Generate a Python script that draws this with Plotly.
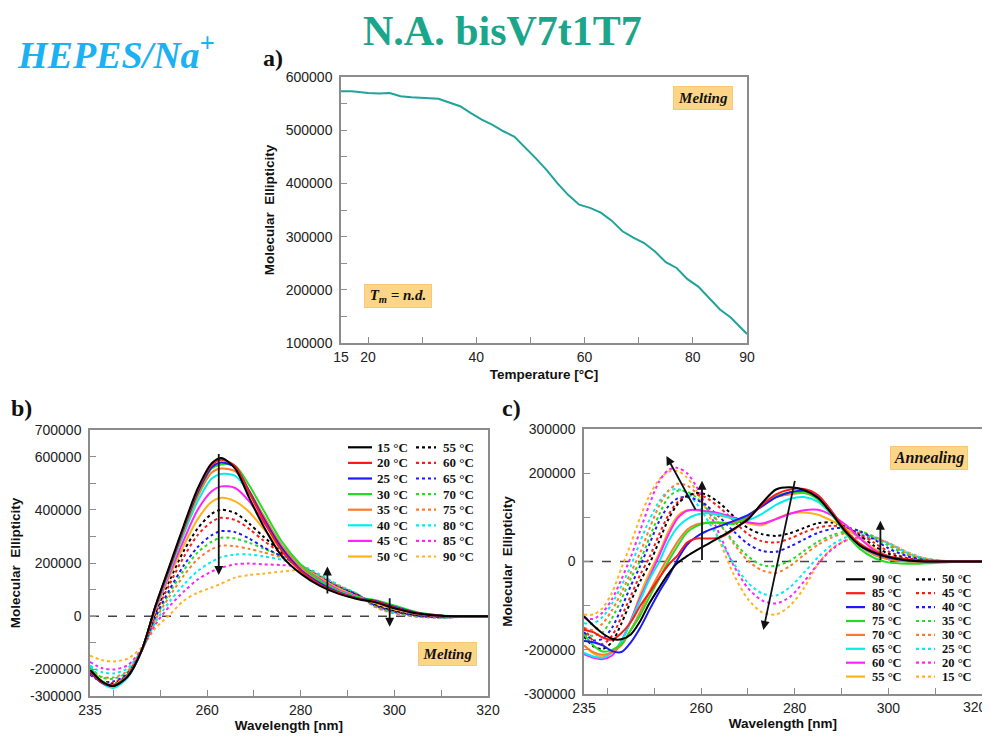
import plotly.graph_objects as go

# ---------------- Panel a: melting curve ----------------
temp_a = [15, 17, 20, 22, 24, 26, 28, 30, 33, 35, 37, 39, 41, 43, 45, 47, 49, 51, 53, 55,
          57, 59, 61, 63, 65, 67, 69, 71, 73, 75, 77, 79, 81, 83, 85, 87, 89, 90]
ellip_a = [573000, 573000, 570000, 569000, 570000, 564000, 562000, 561000, 559000, 552000,
           545000, 532000, 520000, 510000, 498000, 488000, 468000, 447000, 425000, 400000,
           378000, 360000, 354000, 345000, 330000, 310000, 298000, 288000, 272000, 252000,
           241000, 220000, 206000, 185000, 163000, 148000, 126000, 117000]

# ---------------- Panel b: melting spectra ----------------
wl_b = [235, 237.5, 240, 243, 246, 249, 252, 255, 258, 261, 263, 266, 269, 272, 276, 280,
        284, 288, 292, 296, 300, 305, 310, 315, 320]
b_15 = [-200e3, -245e3, -262e3, -228e3, -130e3, 40e3, 190e3, 340e3, 480e3, 575e3, 595e3, 555e3, 445e3, 340e3, 225e3, 160e3, 115e3, 85e3, 65e3, 52e3, 30e3, 10e3, 2e3, 0, 0]
b_20 = [-205e3, -248e3, -260e3, -226e3, -130e3, 38e3, 185e3, 335e3, 472e3, 568e3, 588e3, 565e3, 465e3, 362e3, 245e3, 170e3, 120e3, 88e3, 67e3, 55e3, 33e3, 11e3, 2e3, 0, 0]
b_25 = [-210e3, -250e3, -262e3, -226e3, -130e3, 36e3, 182e3, 330e3, 466e3, 560e3, 578e3, 560e3, 470e3, 370e3, 255e3, 175e3, 125e3, 90e3, 68e3, 57e3, 35e3, 12e3, 2e3, 0, 0]
b_30 = [-195e3, -243e3, -258e3, -225e3, -130e3, 35e3, 180e3, 325e3, 460e3, 555e3, 570e3, 565e3, 492e3, 400e3, 280e3, 195e3, 135e3, 95e3, 72e3, 60e3, 40e3, 14e3, 3e3, 0, 0]
b_35 = [-210e3, -250e3, -262e3, -226e3, -130e3, 33e3, 176e3, 318e3, 450e3, 540e3, 555e3, 545e3, 472e3, 380e3, 265e3, 185e3, 130e3, 92e3, 70e3, 57e3, 36e3, 12e3, 2e3, 0, 0]
b_40 = [-185e3, -250e3, -270e3, -232e3, -132e3, 30e3, 170e3, 308e3, 432e3, 518e3, 535e3, 528e3, 462e3, 375e3, 265e3, 190e3, 135e3, 95e3, 72e3, 55e3, 33e3, 11e3, 2e3, 0, 0]
b_45 = [-200e3, -250e3, -262e3, -226e3, -130e3, 28e3, 160e3, 285e3, 400e3, 470e3, 488e3, 482e3, 432e3, 355e3, 260e3, 190e3, 140e3, 100e3, 74e3, 52e3, 30e3, 10e3, 2e3, 0, 0]
b_50 = [-190e3, -245e3, -258e3, -224e3, -130e3, 25e3, 150e3, 265e3, 365e3, 430e3, 445e3, 432e3, 392e3, 330e3, 250e3, 190e3, 145e3, 105e3, 75e3, 48e3, 26e3, 8e3, 1e3, 0, 0]
b_55 = [-210e3, -248e3, -255e3, -222e3, -130e3, 15e3, 135e3, 245e3, 330e3, 385e3, 400e3, 388e3, 348e3, 300e3, 240e3, 190e3, 142e3, 106e3, 78e3, 45e3, 22e3, 5e3, 0, 0, 0]
b_60 = [-215e3, -248e3, -250e3, -220e3, -130e3, 10e3, 120e3, 222e3, 305e3, 355e3, 370e3, 362e3, 328e3, 285e3, 235e3, 190e3, 145e3, 108e3, 80e3, 42e3, 20e3, 3e3, -2e3, -1e3, 0]
b_65 = [-220e3, -245e3, -245e3, -216e3, -130e3, 0, 100e3, 190e3, 260e3, 305e3, 320e3, 316e3, 292e3, 260e3, 225e3, 190e3, 148e3, 110e3, 82e3, 40e3, 18e3, 2e3, -4e3, -2e3, 0]
b_70 = [-190e3, -230e3, -235e3, -210e3, -130e3, -5e3, 88e3, 172e3, 240e3, 280e3, 295e3, 292e3, 276e3, 255e3, 225e3, 190e3, 150e3, 112e3, 83e3, 40e3, 17e3, 1e3, -4e3, -2e3, 0]
b_75 = [-200e3, -228e3, -230e3, -206e3, -130e3, -12e3, 75e3, 152e3, 215e3, 252e3, 265e3, 263e3, 253e3, 240e3, 220e3, 190e3, 152e3, 115e3, 84e3, 38e3, 15e3, 0, -5e3, -2e3, 0]
b_80 = [-185e3, -210e3, -215e3, -196e3, -128e3, -22e3, 55e3, 118e3, 170e3, 205e3, 222e3, 232e3, 232e3, 225e3, 212e3, 192e3, 158e3, 118e3, 85e3, 37e3, 14e3, -1e3, -5e3, -2e3, 0]
b_85 = [-172e3, -195e3, -200e3, -185e3, -125e3, -30e3, 38e3, 92e3, 138e3, 168e3, 182e3, 195e3, 198e3, 195e3, 192e3, 185e3, 155e3, 115e3, 82e3, 35e3, 12e3, -2e3, -5e3, -2e3, 0]
b_90 = [-148e3, -165e3, -170e3, -160e3, -118e3, -45e3, 5e3, 58e3, 88e3, 108e3, 122e3, 145e3, 155e3, 160e3, 168e3, 172e3, 150e3, 112e3, 80e3, 33e3, 10e3, -2e3, -4e3, -2e3, 0]
temps_b = [15, 20, 25, 30, 35, 40, 45, 50, 55, 60, 65, 70, 75, 80, 85, 90]

# ---------------- Panel c: annealing spectra ----------------
wl_c = [235, 237, 239, 241, 243, 245, 247, 249, 251, 253, 255, 257, 259, 261, 264, 267, 270,
        273, 276, 279, 282, 285, 288, 291, 294, 297, 300, 304, 308, 314, 320]
c_90 = [-124e3, -145e3, -163e3, -175e3, -176e3, -165e3, -135e3, -94e3, -60e3, -28e3, -3e3, 12e3, 25e3, 37e3, 55e3, 74e3, 95e3, 132e3, 163e3, 168e3, 162e3, 144e3, 107e3, 66e3, 36e3, 20e3, 10e3, 3e3, 0, 0, 0]
c_85 = [-155e3, -160e3, -172e3, -177e3, -162e3, -137e3, -100e3, -70e3, -38e3, -8e3, 14e3, 43e3, 52e3, 52e3, 54e3, 72e3, 98e3, 128e3, 152e3, 163e3, 164e3, 150e3, 112e3, 70e3, 40e3, 22e3, 12e3, 5e3, 1e3, 0, 0]
c_80 = [-180e3, -183e3, -190e3, -203e3, -205e3, -183e3, -150e3, -109e3, -70e3, -35e3, 5e3, 38e3, 56e3, 68e3, 80e3, 92e3, 105e3, 125e3, 145e3, 157e3, 160e3, 148e3, 112e3, 68e3, 36e3, 19e3, 9e3, 2e3, 0, 0, 0]
c_75 = [-165e3, -190e3, -204e3, -200e3, -187e3, -155e3, -122e3, -80e3, -40e3, 0, 35e3, 66e3, 80e3, 87e3, 88e3, 85e3, 102e3, 128e3, 148e3, 156e3, 156e3, 140e3, 105e3, 62e3, 28e3, 8e3, -2e3, -5e3, -4e3, -1e3, 0]
c_70 = [-190e3, -205e3, -211e3, -205e3, -190e3, -155e3, -114e3, -68e3, -28e3, 10e3, 45e3, 72e3, 84e3, 88e3, 88e3, 89e3, 100e3, 126e3, 146e3, 152e3, 155e3, 143e3, 108e3, 65e3, 35e3, 15e3, 5e3, 0, -1e3, 0, 0]
c_65 = [-207e3, -215e3, -218e3, -206e3, -180e3, -135e3, -88e3, -40e3, -2e3, 45e3, 78e3, 96e3, 106e3, 109e3, 106e3, 97e3, 94e3, 108e3, 128e3, 142e3, 146e3, 135e3, 105e3, 65e3, 35e3, 15e3, 5e3, 0, 0, 0, 0]
c_60 = [-210e3, -218e3, -221e3, -213e3, -180e3, -133e3, -82e3, -35e3, 12e3, 60e3, 98e3, 115e3, 117e3, 114e3, 109e3, 100e3, 89e3, 86e3, 96e3, 108e3, 116e3, 117e3, 104e3, 82e3, 52e3, 26e3, 12e3, 3e3, 0, 0, 0]
c_55 = [-190e3, -208e3, -215e3, -205e3, -180e3, -135e3, -75e3, -25e3, 18e3, 68e3, 103e3, 116e3, 116e3, 112e3, 104e3, 96e3, 86e3, 82e3, 97e3, 109e3, 111e3, 106e3, 92e3, 74e3, 52e3, 30e3, 12e3, 4e3, 0, 0, 0]
c_50 = [-170e3, -192e3, -198e3, -182e3, -140e3, -90e3, -45e3, -5e3, 45e3, 95e3, 130e3, 148e3, 155e3, 152e3, 132e3, 102e3, 76e3, 62e3, 58e3, 64e3, 76e3, 87e3, 88e3, 78e3, 58e3, 35e3, 18e3, 6e3, 1e3, 0, 0]
c_45 = [-150e3, -180e3, -187e3, -168e3, -125e3, -78e3, -30e3, 10e3, 60e3, 105e3, 135e3, 150e3, 152e3, 145e3, 122e3, 92e3, 62e3, 46e3, 43e3, 52e3, 66e3, 77e3, 81e3, 76e3, 62e3, 42e3, 23e3, 8e3, 2e3, 0, 0]
c_40 = [-160e3, -178e3, -175e3, -150e3, -105e3, -55e3, -10e3, 40e3, 90e3, 125e3, 143e3, 146e3, 140e3, 128e3, 100e3, 68e3, 40e3, 24e3, 22e3, 34e3, 50e3, 65e3, 74e3, 77e3, 68e3, 50e3, 30e3, 12e3, 3e3, 0, 0]
c_35 = [-165e3, -168e3, -160e3, -128e3, -85e3, -38e3, 2e3, 55e3, 105e3, 145e3, 160e3, 158e3, 145e3, 122e3, 85e3, 45e3, 12e3, -8e3, -10e3, 2e3, 24e3, 45e3, 60e3, 68e3, 68e3, 55e3, 36e3, 15e3, 4e3, 0, 0]
c_30 = [-150e3, -155e3, -140e3, -110e3, -70e3, -25e3, 20e3, 75e3, 125e3, 160e3, 176e3, 172e3, 155e3, 128e3, 85e3, 40e3, 2e3, -20e3, -26e3, -10e3, 15e3, 38e3, 55e3, 64e3, 65e3, 57e3, 40e3, 18e3, 5e3, 0, 0]
c_25 = [-140e3, -140e3, -125e3, -95e3, -55e3, -10e3, 45e3, 95e3, 135e3, 160e3, 164e3, 155e3, 132e3, 100e3, 48e3, -5e3, -48e3, -72e3, -77e3, -58e3, -25e3, 10e3, 38e3, 55e3, 60e3, 55e3, 42e3, 20e3, 6e3, 0, 0]
c_20 = [-128e3, -130e3, -115e3, -85e3, -40e3, 10e3, 70e3, 130e3, 180e3, 207e3, 212e3, 200e3, 170e3, 128e3, 60e3, -10e3, -60e3, -88e3, -95e3, -80e3, -45e3, -5e3, 28e3, 48e3, 55e3, 52e3, 42e3, 20e3, 6e3, 0, 0]
c_15 = [-120e3, -120e3, -105e3, -70e3, -15e3, 40e3, 100e3, 150e3, 185e3, 203e3, 205e3, 190e3, 160e3, 120e3, 45e3, -30e3, -85e3, -115e3, -120e3, -100e3, -60e3, -5e3, 30e3, 48e3, 52e3, 50e3, 42e3, 22e3, 7e3, 0, 0]
temps_c = [90, 85, 80, 75, 70, 65, 60, 55, 50, 45, 40, 35, 30, 25, 20, 15]

palette = ['#000000', '#ff1a1a', '#1a1aff', '#22dd22', '#ff7a2a', '#00eeee', '#ff22ff', '#ffb31a']

# arrows: (tail_x, tail_y, head_x, head_y)
arrows_b = [(262.5, 615000, 262.5, 155000), (285.7, 80000, 285.7, 187000), (299, 73000, 299, -40000)]
arrows_c = [(259.0, 114000, 252.6, 239000), (260.2, 0, 260.2, 183000),
            (280.1, 186000, 273.3, -155000), (298.3, 0, 298.3, 92000)]

OFF = 8  # the page body margin shifts the figure by 8 px
W, H = 990 - OFF, 738 - OFF
def px(x):
    return (x - OFF) / W
def py(y):
    return 1 - (y - OFF) / H

fig = go.Figure()

fig.add_trace(go.Scatter(x=temp_a, y=ellip_a, mode='lines', line=dict(color='#1fa39b', width=2),
                         xaxis='x', yaxis='y', showlegend=False))

series_b = [b_15, b_20, b_25, b_30, b_35, b_40, b_45, b_50, b_55, b_60, b_65, b_70, b_75, b_80, b_85, b_90]
for i in [15, 14, 13, 12, 11, 10, 9, 8, 7, 6, 5, 4, 3, 2, 1, 0]:
    fig.add_trace(go.Scatter(x=wl_b, y=series_b[i], mode='lines',
                             line=dict(color=palette[i % 8], width=2, shape='spline', smoothing=0.8,
                                       dash='solid' if i < 8 else 'dot'),
                             xaxis='x2', yaxis='y2', showlegend=False, name=f'{temps_b[i]} °C'))

series_c = [c_90, c_85, c_80, c_75, c_70, c_65, c_60, c_55, c_50, c_45, c_40, c_35, c_30, c_25, c_20, c_15]
for i in [15, 14, 13, 12, 11, 10, 9, 8, 7, 6, 5, 4, 3, 2, 1, 0]:
    fig.add_trace(go.Scatter(x=wl_c, y=series_c[i], mode='lines',
                             line=dict(color=palette[i % 8], width=2, shape='spline', smoothing=0.8,
                                       dash='solid' if i < 8 else 'dot'),
                             xaxis='x3', yaxis='y3', showlegend=False, name=f'{temps_c[i]} °C'))

sans = 'Arial, Liberation Sans, sans-serif'
tickfont = dict(family=sans, size=14, color='#222')
titlefont = dict(family=sans, size=13.5, color='#111')
axcommon = dict(showline=True, mirror=True, linecolor='#8c8c8c', linewidth=1.5, ticks='inside',
                ticklen=6, tickcolor='#8c8c8c', tickwidth=1.2, showgrid=False, zeroline=False,
                tickfont=tickfont, tickmode='array', automargin=False)

wl_ticks = [235, 240, 250, 260, 270, 280, 290, 300, 310, 320]
wl_text = ['235', '', '', '260', '', '280', '', '300', '', '320']
wl_text_c = ['235', '', '', '260', '', '280', '', '300', '', '']

ya_vals = list(range(100000, 600001, 50000))
ya_text = [str(v) if v % 100000 == 0 else '' for v in ya_vals]
yb_vals = list(range(-300000, 700001, 100000))
yb_show = {700000, 600000, 400000, 200000, 0, -200000, -300000}
yb_text = [str(v) if v in yb_show else '' for v in yb_vals]
yc_vals = list(range(-300000, 300001, 100000))
yc_show = {300000, 200000, 0, -200000, -300000}
yc_text = [str(v) if v in yc_show else '' for v in yc_vals]

ytitle = '<b>Molecular\u00a0\u00a0Ellipticity</b>'
fig.update_layout(
    template='none',
    width=W, height=H, autosize=False, margin=dict(l=0, r=0, t=0, b=0, autoexpand=False),
    paper_bgcolor='white', plot_bgcolor='white', showlegend=False,
    xaxis=dict(domain=[px(341), px(747)], range=[15, 90], anchor='y',
               tickvals=[15, 20, 30, 40, 50, 60, 70, 80, 90],
               ticktext=['15', '20', '', '40', '', '60', '', '80', '90'],
               title=dict(text='<b>Temperature [°C]</b>', font=titlefont, standoff=6), **axcommon),
    yaxis=dict(domain=[py(343), py(77)], range=[100000, 600000], anchor='x',
               tickvals=ya_vals, ticktext=ya_text, ticklabelstandoff=4,
               title=dict(text=ytitle, font=titlefont, standoff=8), **axcommon),
    xaxis2=dict(domain=[px(90), px(488)], range=[235, 320], anchor='y2',
                tickvals=wl_ticks, ticktext=wl_text,
                title=dict(text='<b>Wavelength [nm]</b>', font=titlefont, standoff=4), **axcommon),
    yaxis2=dict(domain=[py(696), py(430)], range=[-300000, 700000], anchor='x2',
                tickvals=yb_vals, ticktext=yb_text, ticklabelstandoff=4,
                title=dict(text=ytitle, font=titlefont, standoff=8), **axcommon),
    xaxis3=dict(domain=[px(584), px(982)], range=[235, 320], anchor='y3',
                tickvals=wl_ticks, ticktext=wl_text_c,
                title=dict(text='<b>Wavelength [nm]</b>', font=titlefont, standoff=4), **axcommon),
    yaxis3=dict(domain=[py(694), py(429)], range=[-300000, 300000], anchor='x3',
                tickvals=yc_vals, ticktext=yc_text, ticklabelstandoff=4,
                title=dict(text=ytitle, font=titlefont, standoff=8), **axcommon),
)

shapes = []
for ax in ['2', '3']:
    shapes.append(dict(type='line', xref=f'x{ax} domain', yref=f'y{ax}', x0=0, x1=1, y0=0, y1=0,
                       line=dict(color='#444', width=1.5, dash='dash'), layer='below'))

annotations = []
serif = 'Liberation Serif, Times New Roman, serif'

def paper_text(text, x, y, font, xanchor='center', **kw):
    annotations.append(dict(text=text, x=px(x), y=py(y), xref='paper', yref='paper',
                            xanchor=xanchor, yanchor='middle', showarrow=False, font=font, **kw))

# Titles
paper_text('<b>N.A. bisV7t1T7</b>', 502, 31, dict(family=serif, size=42, color='#1ba58b'))
paper_text('<b><i>HEPES/Na<sup>+</sup></i></b>', 116, 52, dict(family=serif, size=38, color='#1ab2f2'))
for lab, x, y in [('a)', 273, 58), ('b)', 21, 408), ('c)', 511, 408)]:
    paper_text(f'<b>{lab}</b>', x, y, dict(family=serif, size=24, color='#111'))

# last tick label of panel c kept inside the page
paper_text('320', 975, 707, tickfont)

# boxed labels
for txt, cx, cy, w, fs in [('<b><i>Melting</i></b>', 703, 98.5, 56, 15),
                           ('<b><i>T<sub>m</sub> = n.d.</i></b>', 398, 295.5, 64, 15),
                           ('<b><i>Melting</i></b>', 447.5, 654, 55, 15),
                           ('<b><i>Annealing</i></b>', 929, 458, 74, 16)]:
    paper_text(txt, cx, cy, dict(family=serif, size=fs, color='#111'),
               bgcolor='#fdd586', bordercolor='#f8c873', borderwidth=1, borderpad=1,
               width=w, height=20, align='center', valign='middle')

# arrows
for ax, arr in [('2', arrows_b), ('3', arrows_c)]:
    for tx, ty, hx, hy in arr:
        annotations.append(dict(x=hx, y=hy, ax=tx, ay=ty, xref=f'x{ax}', yref=f'y{ax}',
                                axref=f'x{ax}', ayref=f'y{ax}', text='', showarrow=True,
                                arrowhead=2, arrowsize=1, arrowwidth=1.8, arrowcolor='#111'))

# manual legends
def add_legend(temps, col_x, row_y0, row_dy, fsize):
    legfont = dict(family=serif, size=fsize, color='#111')
    for i, t in enumerate(temps):
        col = 0 if i < 8 else 1
        row = i % 8
        y = row_y0 + row * row_dy
        sx0, sx1, tx = col_x[col]
        shapes.append(dict(type='line', xref='paper', yref='paper', x0=px(sx0), x1=px(sx1),
                           y0=py(y), y1=py(y),
                           line=dict(color=palette[i % 8], width=2.2, dash='solid' if col == 0 else 'dot')))
        paper_text(f'<b>{t} °C</b>', tx, y, legfont, xanchor='left')

add_legend(temps_b, [(348, 372, 375), (416, 436, 441)], 447.3, 15.6, 13)
add_legend(temps_c, [(846, 865, 870), (916, 935, 940)], 579.3, 13.9, 12.5)

fig.update_layout(shapes=shapes, annotations=annotations)
fig.write_html('out.html')
